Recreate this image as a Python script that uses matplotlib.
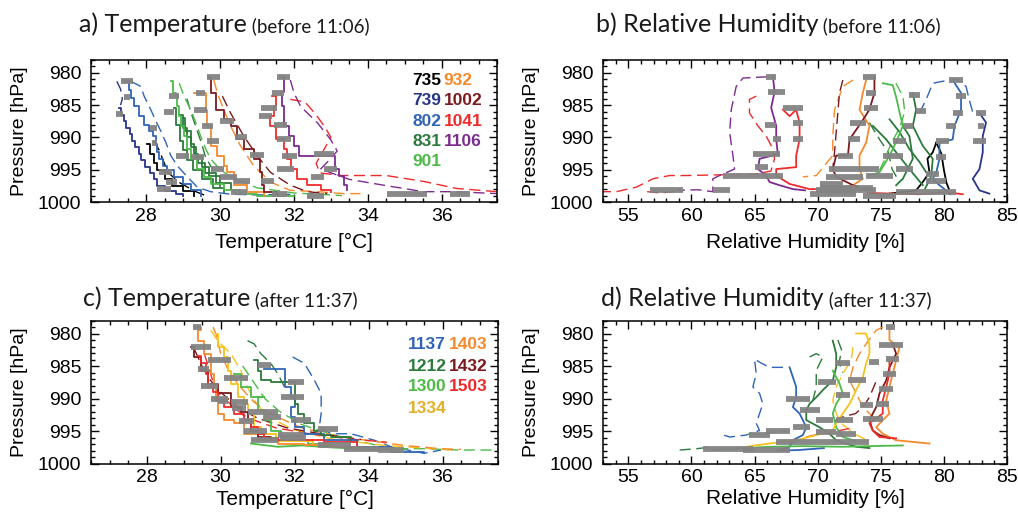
import matplotlib
matplotlib.use("Agg")
import matplotlib.pyplot as plt
from matplotlib.ticker import MultipleLocator

plt.rcParams['font.family'] = ['Liberation Sans', 'DejaVu Sans']

# ---------------- colours ----------------
COL = {
    '735': '#000000', '739': '#27358b', '802': '#2f64b6', '831': '#2b7a3c',
    '901': '#4dba48', '932': '#f5892b', '1002': '#7a1a1e', '1041': '#ee2b2b',
    '1106': '#7d2b8f',
    '1137': '#2f64b6', '1212': '#2b7a3c', '1300': '#4dba48', '1334': '#f7c21d',
    '1403': '#f5892b', '1432': '#7a1a1e', '1503': '#ee2b2b',
}
LABEL_COL = dict(COL)
LABEL_COL['1334'] = '#e3b02a'
GRAY = '#838383'

# ---------------- panel a: temperature before 11:06 (T [C], p [hPa]) ----------------
a_735_solid = [(28.03, 991.0), (28.1, 992.5), (28.2, 994.0), (28.3, 995.0), (28.5, 996.5), (28.7, 997.5), (29.0, 998.3), (29.3, 999.0)]
a_735_dash = [(28.2, 990.5), (28.35, 992.0), (28.45, 993.5), (28.6, 995.5), (28.9, 997.0), (29.3, 998.3), (29.6, 999.0)]
a_739_solid = [(27.25, 985.5), (27.3, 986.5), (27.4, 987.5), (27.45, 988.5), (27.55, 989.5), (27.6, 990.5), (27.7, 991.5), (27.8, 992.5), (27.85, 993.5), (27.95, 994.5), (28.1, 995.5), (28.2, 996.5), (28.3, 997.5), (28.5, 998.3), (28.8, 998.8), (29.0, 999.0)]
a_739_dash = [(27.2, 981.3), (27.3, 982.5), (27.35, 984.0), (27.3, 985.0)]
a_802_solid = [(27.4, 981.3), (27.54, 982.6), (27.58, 983.9), (27.67, 985.2), (27.8, 986.7), (27.94, 988.0), (28.08, 989.0), (28.17, 989.8), (28.26, 991.0), (28.3, 992.3), (28.35, 993.3), (28.44, 994.4), (28.57, 995.1), (28.75, 996.1), (28.98, 997.2), (29.2, 998.2), (29.47, 999.0)]
a_802_dash = [(27.58, 981.3), (27.85, 982.1), (27.94, 983.6), (28.12, 985.7), (28.26, 987.5), (28.39, 989.0), (28.53, 990.8), (28.66, 992.8), (28.84, 994.4), (29.11, 996.1), (29.38, 997.7), (29.74, 998.4), (30.3, 998.8), (31.0, 998.9), (31.9, 998.8)]
a_831_solid1 = [(28.75, 985.5), (28.8, 988.0), (28.9, 990.5), (29.0, 992.0), (29.1, 993.5), (29.25, 995.0), (29.5, 996.5), (29.8, 997.8), (30.1, 998.5)]
a_831_solid2 = [(29.0, 987.0), (29.05, 989.0), (29.2, 991.0), (29.3, 992.5), (29.4, 994.0), (29.6, 995.5), (29.9, 997.0), (30.3, 998.0)]
a_831_solid3 = [(28.9, 986.5), (29.0, 988.5), (29.1, 990.0), (29.2, 991.5), (29.35, 993.0), (29.5, 994.5), (29.7, 996.0), (30.0, 997.5)]
a_831_dash = [(29.1, 984.0), (29.2, 986.0), (29.35, 988.5), (29.5, 991.0), (29.6, 993.0), (29.8, 995.0)]
a_901_solid = [(28.66, 981.3), (28.71, 983.1), (28.8, 983.6), (28.84, 985.2), (28.89, 986.7), (28.93, 988.2), (29.02, 989.8), (29.11, 991.8), (29.2, 993.3), (29.38, 994.9), (29.56, 996.1), (29.74, 997.2), (30.1, 998.2), (30.55, 998.7), (31.0, 999.0), (32.0, 999.0)]
a_901_dash = [(28.89, 981.6), (29.02, 983.6), (29.2, 985.7), (29.34, 987.7), (29.47, 989.8), (29.61, 991.8), (29.74, 993.3), (30.0, 995.0), (30.4, 996.5), (31.0, 997.8), (32.0, 998.6), (33.3, 999.0)]
a_932_solid = [(29.29, 983.1), (29.56, 983.1), (29.61, 985.7), (29.65, 988.2), (29.74, 991.3), (29.92, 992.8), (30.1, 994.4), (30.19, 995.4), (30.37, 997.4), (30.73, 998.4), (31.18, 999.0)]
a_932_dash = [(29.83, 981.1), (29.92, 983.1), (30.1, 985.7), (30.28, 988.2), (30.55, 991.3), (30.91, 994.4), (31.36, 996.9), (31.9, 998.2), (32.63, 998.4), (33.35, 998.7), (33.8, 998.7)]
a_1002_solid = [(29.7, 980.6), (29.74, 983.1), (29.88, 985.7), (30.1, 987.2), (30.28, 988.2), (30.46, 990.3), (30.64, 991.8), (30.91, 993.3), (31.09, 995.4), (31.14, 997.4), (31.18, 998.4), (31.55, 998.7)]
a_1002_dash = [(30.06, 983.6), (30.28, 986.2), (30.64, 989.8), (31.0, 992.8), (31.36, 995.4), (31.9, 997.4), (32.36, 998.4), (32.9, 998.7)]
a_1041_solid = [(31.41, 983.6), (31.5, 985.2), (31.45, 986.7), (31.36, 988.2), (31.5, 990.3), (31.73, 991.8), (31.82, 993.3), (31.91, 994.9), (32.09, 996.4), (32.36, 997.4), (32.72, 998.2), (32.99, 998.4)]
a_1041_dash = [(31.9, 984.1), (32.3, 984.5), (32.6, 986.5), (32.85, 988.5), (33.0, 990.0), (32.8, 992.0), (32.6, 994.0), (32.7, 995.5), (33.3, 995.9), (34.5, 995.9), (35.5, 996.8), (36.4, 997.9), (37.5, 998.4)]
a_1106_solid = [(31.68, 980.6), (31.73, 982.9), (31.64, 983.4), (31.68, 985.2), (31.73, 988.2), (31.86, 989.8), (32.0, 991.3), (32.13, 992.8), (32.8, 992.8), (33.12, 992.8), (33.12, 994.9), (33.21, 995.9), (33.35, 997.4), (33.44, 998.2)]
a_1106_dash = [(31.9, 981.1), (32.0, 983.1), (32.18, 985.2), (32.63, 987.7), (32.99, 990.3), (33.17, 992.1), (32.99, 993.3), (32.72, 994.9), (33.5, 996.5), (34.43, 997.4), (35.5, 998.4), (36.4, 998.4), (37.5, 998.7)]

a_leg_p = [981.2, 983.8, 986.3, 988.5, 990.9, 995.4, 996.9, 998.0, 983.5, 986.0, 983.1, 985.7, 980.6, 988.2, 990.5, 987.5, 990.0, 992.7, 992.8, 993.1, 994.9, 996.1, 996.7, 998.4, 996.7, 998.7, 999.0, 985.4, 980.6, 983.1, 988.0, 990.3, 992.8, 992.6, 994.9, 996.1, 994.9, 998.7, 998.7, 986.7]
a_leg_t0 = [27.31, 27.4, 27.18, 28.1, 28.15, 28.35, 28.53, 28.3, 28.62, 28.48, 29.34, 29.29, 29.65, 29.5, 29.65, 30.0, 30.4, 30.82, 28.8, 29.2, 29.74, 30.0, 30.37, 30.28, 31.1, 31.41, 32.36, 31.1, 31.55, 31.41, 31.45, 31.55, 31.68, 32.54, 31.55, 32.45, 32.8, 34.52, 36.23, 31.05]
a_leg_t1 = [27.63, 27.56, 27.36, 28.3, 28.3, 28.7, 28.84, 28.66, 28.89, 28.75, 29.6, 29.65, 30.0, 29.8, 29.97, 30.37, 30.73, 31.18, 29.16, 29.56, 30.1, 30.46, 30.82, 30.73, 31.45, 31.82, 32.8, 31.55, 31.9, 31.73, 31.82, 31.91, 32.09, 33.08, 32.0, 32.8, 33.17, 35.6, 36.77, 31.41]

# ---------------- panel b: relative humidity before 11:06 (RH [%], p [hPa]) ----------------
b_735_solid = [(79.4, 990.8), (79.12, 992.3), (78.7, 993.3), (78.86, 995.4), (78.33, 996.9), (77.8, 998.2), (75.7, 998.7)]
b_735_solid2 = [(79.4, 990.8), (79.8, 992.5), (80.0, 995.0), (80.2, 997.0), (80.4, 998.0)]
b_739_solid = [(82.82, 986.2), (83.34, 987.7), (83.08, 989.8), (83.08, 992.3), (82.82, 994.9), (82.29, 996.4), (82.82, 998.2), (83.6, 998.7)]
b_802_solid = [(80.7, 981.1), (81.36, 983.1), (81.36, 985.7), (80.84, 988.2), (80.7, 990.3), (79.65, 990.8), (79.65, 993.3), (79.4, 995.4), (79.12, 996.4), (79.65, 997.4), (80.17, 998.2), (80.5, 998.8)]
b_802_dash = [(78.07, 986.2), (78.6, 984.1), (79.12, 981.6), (79.9, 981.3), (81.0, 981.0), (81.76, 982.1), (82.0, 984.1), (82.3, 986.2)]
b_831_solid1 = [(74.37, 988.2), (75.43, 990.3), (76.22, 992.3), (77.27, 994.9), (78.33, 997.4)]
b_831_solid2 = [(75.7, 987.2), (76.5, 989.2), (77.27, 991.8), (78.07, 993.8), (78.6, 995.4)]
b_831_solid3 = [(76.75, 988.2), (77.27, 989.8), (77.54, 993.3), (76.75, 996.4), (76.22, 997.4)]
b_831_solid4 = [(77.54, 983.1), (77.8, 985.7), (77.54, 988.2), (78.33, 991.3), (79.12, 993.3), (79.0, 996.0), (78.5, 998.0)]
b_831_dash = [(74.1, 987.7), (74.9, 990.3), (75.6, 992.3), (75.9, 994.9), (76.5, 997.0)]
b_901_solid = [(75.16, 981.6), (75.95, 981.9), (76.2, 983.6), (76.5, 986.2), (76.75, 988.2), (76.2, 990.8), (75.7, 992.8), (74.9, 995.4), (74.1, 995.9)]
b_901_dash = [(76.2, 981.6), (76.75, 983.6), (76.9, 986.0), (76.5, 988.5), (75.8, 991.0), (75.3, 993.5), (74.8, 995.5)]
b_932_solid = [(73.84, 981.1), (73.58, 983.1), (73.32, 985.7), (74.11, 988.2), (73.84, 990.8), (73.32, 992.8), (73.32, 994.9), (73.58, 996.4), (72.8, 997.4), (71.0, 998.0)]
b_932_dash = [(72.8, 981.1), (72.0, 982.1), (71.34, 985.7), (71.2, 989.8), (71.2, 992.8), (69.9, 995.9), (68.83, 996.1)]
b_1002_solid = [(74.5, 980.6), (74.5, 983.1), (74.1, 985.7), (73.45, 987.7), (72.53, 990.3), (72.4, 992.8), (71.47, 992.8), (71.2, 994.9), (71.47, 996.1), (72.8, 997.4), (74.1, 998.2)]
b_1002_dash = [(72.0, 981.1), (71.73, 983.1), (71.6, 986.2), (71.47, 989.2), (71.34, 992.3), (71.2, 994.9)]
b_1041_solid = [(67.25, 985.7), (67.78, 986.7), (68.3, 985.7), (68.57, 987.7), (68.57, 990.3), (68.3, 992.8), (68.3, 994.6), (66.72, 994.9), (66.72, 995.9), (67.78, 997.2), (69.36, 998.0), (71.47, 998.0), (72.5, 998.2)]
b_1041_solid2 = [(74.0, 998.6), (78.0, 998.8), (80.3, 998.5), (81.5, 998.8)]
b_1041_dash = [(65.14, 983.6), (64.6, 984.1), (64.6, 986.2), (65.27, 988.2), (65.93, 989.8), (66.46, 991.8), (66.59, 993.3), (66.3, 995.2), (65.0, 995.7), (62.0, 995.8), (59.6, 995.9), (58.28, 995.9), (56.96, 996.4), (55.64, 997.7), (54.06, 998.4), (53.0, 998.4)]
b_1041_dash2 = [(56.5, 998.4), (57.5, 998.6), (59.07, 998.3)]
b_1106_solid = [(66.46, 980.6), (66.59, 982.9), (66.32, 985.4), (66.72, 988.2), (66.72, 990.3), (66.85, 992.6), (65.4, 993.3), (65.27, 994.9), (65.93, 995.9), (66.19, 996.9), (66.98, 997.4), (68.04, 998.0), (69.0, 998.2)]
b_1106_dash = [(66.0, 980.6), (64.08, 980.8), (63.55, 982.1), (63.16, 985.7), (63.03, 989.2), (63.29, 992.8), (63.42, 994.9), (62.23, 995.9), (61.7, 996.4), (61.7, 998.4), (60.5, 998.1), (59.0, 998.2)]

b_leg_p = [980.6, 983.0, 985.5, 987.7, 990.3, 988.0, 990.3, 992.6, 994.6, 995.9, 998.2, 998.2,
           980.6, 983.1, 985.5, 987.7, 990.3, 992.8, 994.9, 996.1, 998.2, 997.2, 998.7,
           981.1, 983.6, 986.2, 988.2, 990.5, 986.2, 988.2, 990.5, 993.1, 995.6, 996.7, 998.4,
           983.4, 985.9, 988.2, 990.5, 992.8, 994.9, 995.9, 994.9, 997.9, 999.0, 998.4]
b_leg_r0 = [65.93, 66.06, 67.25, 68.04, 68.04, 65.8, 66.46, 64.87, 65.0, 62.5, 56.7, 61.7,
            73.58, 73.84, 73.7, 72.53, 72.4, 71.6, 70.94, 70.7, 69.9, 70.15, 69.36,
            80.44, 80.97, 82.55, 82.68, 82.29, 80.7, 80.17, 79.4, 79.4, 78.6, 78.6, 78.33,
            77.27, 77.8, 76.75, 75.95, 75.16, 76.2, 73.84, 73.3, 70.15, 73.58, 76.2]
b_leg_r1 = [66.72, 67.38, 68.83, 68.83, 68.83, 66.72, 67.1, 67.0, 66.06, 67.25, 59.33, 63.03,
            74.64, 74.64, 74.77, 73.84, 73.32, 72.8, 73.32, 73.6, 74.64, 72.0, 73.05,
            81.5, 81.76, 83.34, 83.2, 83.34, 81.5, 80.97, 80.44, 80.17, 79.65, 80.17, 80.97,
            78.07, 78.6, 77.54, 77.0, 76.75, 77.54, 75.95, 74.9, 74.37, 76.2, 78.33]

# ---------------- panel c: temperature after 11:37 ----------------
c_1137_solid = [(31.18, 985.4), (31.55, 985.4), (31.73, 985.7), (31.73, 988.2), (31.9, 989.8), (32.0, 991.3), (31.9, 992.8), (32.0, 994.4), (32.27, 995.4), (32.8, 996.4), (33.7, 997.4), (34.61, 998.2), (35.5, 998.4)]
c_1137_dash = [(31.95, 983.6), (32.27, 984.6), (32.54, 987.2), (32.72, 989.2), (32.72, 992.3), (32.67, 994.4), (32.99, 995.4), (33.53, 995.4), (34.16, 996.4), (34.61, 997.4), (35.5, 998.4), (35.96, 997.9)]
c_1212_solid = [(30.91, 984.1), (31.0, 985.7), (31.09, 987.2), (31.36, 987.5), (31.82, 987.5), (32.0, 988.7), (32.0, 990.8), (32.09, 992.3), (32.27, 993.8), (32.54, 994.9), (32.72, 995.6), (32.99, 995.9), (33.53, 996.4)]
c_1212_dash = [(30.73, 981.1), (30.91, 981.6), (31.09, 983.1), (31.36, 984.6), (31.55, 986.2), (31.73, 988.2)]
c_1300_solid = [(30.37, 986.2), (30.55, 988.2), (30.82, 989.8), (31.18, 989.8), (31.0, 991.8), (31.18, 993.3), (31.36, 994.9), (31.64, 995.9), (31.9, 996.4), (32.36, 996.9), (33.0, 997.2)]
c_1300_solid2 = [(30.82, 996.9), (31.55, 997.4), (32.2, 997.2), (33.0, 997.5), (34.0, 997.8), (35.0, 997.8)]
c_1300_dash = [(30.6, 985.0), (30.9, 987.5), (31.2, 990.0), (31.6, 992.0), (32.2, 994.0), (33.0, 995.5), (34.61, 997.7), (35.5, 997.7), (36.41, 997.9), (37.5, 997.9)]
c_1334_solid = [(29.88, 980.0), (29.92, 982.1), (30.1, 983.6), (30.19, 985.7), (30.28, 987.7), (30.46, 989.8), (30.64, 990.8), (30.73, 992.3), (30.91, 994.4), (31.09, 995.4), (31.5, 996.5), (32.5, 997.0)]
c_1334_dash = [(29.74, 979.5), (29.92, 981.1), (30.28, 983.1), (30.55, 985.7), (30.73, 988.2), (30.91, 990.3), (31.27, 992.8), (32.0, 994.8), (33.0, 996.2), (34.43, 997.2), (35.5, 997.6), (36.23, 997.9)]
c_1403_solid = [(29.38, 979.0), (29.47, 979.5), (29.38, 981.1), (29.56, 983.1), (29.74, 986.2), (29.83, 988.2), (29.88, 990.3), (29.92, 992.3), (30.1, 993.3), (30.37, 993.8), (30.64, 995.4), (31.0, 996.4), (31.55, 996.9), (32.27, 997.2), (32.99, 997.4), (33.7, 997.7)]
c_1403_dash = [(29.8, 979.0), (29.9, 980.5), (30.0, 983.0), (30.2, 985.5), (30.5, 988.0), (30.9, 990.5), (31.4, 992.5), (32.2, 994.5), (33.2, 995.8), (34.2, 996.6), (34.97, 997.2), (35.96, 997.7), (36.5, 997.8)]
c_1432_solid = [(29.2, 982.1), (29.29, 983.6), (29.47, 985.7), (29.65, 987.7), (29.92, 989.2), (30.28, 991.3), (30.55, 992.1), (30.73, 993.3), (30.82, 994.9), (31.0, 995.9), (31.36, 996.4)]
c_1432_dash = [(29.3, 982.5), (29.5, 985.0), (29.7, 987.0), (30.0, 989.0), (30.5, 991.5), (31.0, 993.0), (31.8, 994.5), (32.8, 995.5), (33.8, 996.3)]
c_1503_solid = [(29.38, 983.4), (29.47, 984.6), (29.61, 986.2), (29.65, 988.2), (29.79, 989.0), (29.92, 990.3), (30.1, 991.3), (30.37, 992.3), (30.64, 993.3), (30.82, 994.4), (31.0, 995.4), (31.18, 996.1), (31.55, 996.4), (32.09, 996.4), (32.8, 996.7), (33.7, 997.2)]
c_1503_dash = [(29.56, 983.1), (29.7, 985.5), (29.8, 987.5), (30.0, 989.5), (30.3, 991.0), (30.6, 992.5), (31.0, 993.5), (31.5, 994.5), (32.5, 995.5), (33.5, 996.2), (34.5, 996.7)]

c_leg_p = [979.0, 982.1, 984.1, 986.9, 984.9, 987.5, 989.8, 988.0, 990.3, 990.5, 992.1, 992.8, 993.3, 994.6, 994.9, 995.6, 996.4, 996.1, 997.2, 997.7, 997.9, 985.5, 990.0, 991.5, 993.5]
c_leg_t0 = [29.25, 29.2, 29.65, 30.1, 31.0, 31.82, 31.64, 29.47, 29.92, 30.28, 30.73, 31.18, 31.9, 32.63, 30.64, 31.55, 30.82, 31.6, 32.63, 33.35, 34.25, 29.4, 29.75, 30.3, 30.5]
c_leg_t1 = [29.47, 29.74, 30.28, 30.73, 31.36, 32.27, 32.27, 29.92, 30.19, 30.73, 31.55, 31.64, 32.45, 33.17, 31.27, 32.27, 31.55, 32.3, 33.53, 34.25, 34.97, 29.7, 30.2, 30.7, 30.9]

# ---------------- panel d: relative humidity after 11:37 ----------------
d_1137_solid = [(67.78, 985.2), (68.04, 986.7), (68.3, 988.2), (68.3, 989.8), (68.04, 991.3), (68.57, 992.3), (68.83, 993.3), (69.1, 994.4), (68.83, 995.6), (68.04, 996.4), (67.78, 997.4), (66.72, 998.0), (68.5, 997.9), (70.5, 997.6)]
d_1137_dash = [(67.25, 985.2), (66.19, 985.2), (65.4, 984.4), (65.0, 983.9), (65.14, 986.2), (64.87, 988.2), (65.4, 989.2), (65.66, 990.8), (65.4, 992.3), (65.14, 993.8), (65.4, 994.9), (64.34, 995.6), (63.03, 995.9), (62.23, 995.4)]
d_1212_solid = [(71.2, 981.1), (71.47, 983.1), (71.47, 985.2), (71.2, 987.2), (70.41, 988.7), (69.89, 989.8), (69.36, 990.8), (69.1, 991.8), (69.1, 993.3), (70.15, 994.4), (70.94, 995.4), (71.47, 996.4), (73.05, 997.4), (74.1, 997.6)]
d_1212_dash = [(69.36, 983.6), (69.89, 983.1), (70.41, 983.6), (69.89, 985.7), (69.89, 988.2), (69.62, 990.3)]
d_1212_dash2 = [(59.07, 997.9), (60.39, 997.7), (61.7, 997.4)]
d_1212_dash3 = [(71.6, 981.0), (71.9, 982.5), (71.7, 984.5), (72.0, 986.0)]
d_1300_solid = [(71.2, 985.7), (71.73, 987.7), (71.99, 989.2), (71.47, 990.8), (71.2, 992.3), (71.47, 994.4), (71.99, 995.9), (73.0, 996.5)]
d_1300_solid2 = [(61.7, 997.9), (64.0, 997.6), (66.19, 997.4), (68.83, 997.3), (72.0, 997.4), (74.1, 997.3), (76.75, 997.2)]
d_1300_dash = [(64.5, 995.5), (66.0, 995.3), (67.5, 995.0)]
d_1334_solid = [(73.05, 980.0), (73.84, 980.0), (74.1, 981.6), (74.1, 983.1), (73.84, 984.6), (73.58, 986.7), (73.05, 988.7), (72.53, 990.8), (71.99, 992.3), (71.47, 993.8), (71.2, 994.9), (69.89, 995.6), (68.3, 996.4), (66.19, 996.9), (64.34, 997.4)]
d_1334_dash = [(72.8, 982.1), (72.66, 984.1), (71.99, 986.2), (71.47, 988.2), (71.2, 990.3), (71.47, 992.3), (72.0, 994.0), (73.0, 995.5), (74.0, 996.5)]
d_1403_solid = [(75.69, 979.0), (75.69, 981.0), (76.48, 982.1), (76.22, 984.1), (75.95, 986.2), (75.69, 988.2), (75.43, 990.3), (75.69, 992.3), (75.16, 993.3), (74.64, 994.4), (75.16, 995.4), (76.22, 996.4), (78.86, 996.9)]
d_1403_dash = [(75.16, 979.0), (74.64, 979.5), (73.84, 981.6), (73.32, 983.1), (72.8, 985.2), (72.53, 987.2), (73.05, 989.2), (73.58, 991.3), (74.64, 993.3)]
d_1432_solid = [(75.95, 981.6), (76.22, 983.1), (75.69, 985.2), (75.43, 987.2), (74.9, 989.2), (74.64, 991.3), (74.1, 993.3), (74.37, 994.9), (74.9, 995.6), (75.69, 996.1)]
d_1432_dash = [(74.6, 987.5), (74.1, 989.8), (73.6, 991.3), (73.0, 992.3), (72.0, 992.8), (71.0, 993.8)]
d_1503_solid = [(75.69, 984.1), (75.69, 986.2), (75.43, 988.2), (75.16, 990.3), (75.16, 992.3), (74.1, 993.8), (74.37, 994.9), (74.9, 995.9), (76.22, 996.1)]
d_1503_dash = [(69.1, 995.9), (70.2, 995.4), (71.5, 995.0), (72.5, 994.6)]

d_leg_p = [979.0, 981.8, 983.9, 986.2, 988.5, 990.8, 993.1, 984.6, 987.2, 984.4, 989.5, 987.5, 990.0, 991.8, 991.0, 993.3, 993.3, 994.9, 995.6, 995.1, 995.4, 994.4, 996.7, 997.7, 997.9]
d_leg_r0 = [75.43, 74.9, 75.43, 75.16, 74.9, 74.64, 73.58, 71.47, 72.4, 74.1, 71.47, 70.02, 67.51, 68.57, 73.32, 71.47, 69.89, 65.93, 64.6, 69.89, 71.47, 68.04, 66.72, 60.92, 64.08]
d_leg_r1 = [76.1, 76.75, 76.48, 76.22, 75.95, 75.69, 75.16, 72.53, 73.84, 74.9, 72.53, 71.47, 69.36, 70.15, 74.37, 72.8, 71.2, 67.78, 66.19, 71.47, 73.05, 69.36, 74.1, 64.87, 67.78]

legend_a = [['735', '932'], ['739', '1002'], ['802', '1041'], ['831', '1106'], ['901']]
legend_c = [['1137', '1403'], ['1212', '1432'], ['1300', '1503'], ['1334']]

# ---------------- figure ----------------
W, H = 1018, 514
fig = plt.figure(figsize=(W / 100, H / 100), dpi=100)


def px_axes(left, top, right, bottom):
    return fig.add_axes([left / W, 1 - bottom / H, (right - left) / W, (bottom - top) / H])


ax_a = px_axes(91, 60, 497, 202)
ax_b = px_axes(603, 60, 1007, 202)
ax_c = px_axes(91, 320.5, 498, 463.7)
ax_d = px_axes(603, 320.5, 1007, 463.7)


def line(ax, pts, key, dashed=False, steps=False):
    xs = [p[0] for p in pts]
    ys = [p[1] for p in pts]
    if dashed:
        ax.plot(xs, ys, color=COL[key], lw=1.0, ls=(0, (8, 4)), zorder=2)
    else:
        ax.plot(xs, ys, color=COL[key], lw=1.3, zorder=2.2,
                drawstyle='steps-post' if steps else 'default')


def legs(ax, ps, x0s, x1s):
    for p, x0, x1 in zip(ps, x0s, x1s):
        ax.plot([x0, x1], [p, p], color=GRAY, lw=4.2, solid_capstyle='butt',
                alpha=0.95, zorder=3)


# panel a
line(ax_a, a_735_dash, '735', True); line(ax_a, a_735_solid, '735', steps=True)
line(ax_a, a_739_dash, '739', True); line(ax_a, a_739_solid, '739', steps=True)
line(ax_a, a_802_dash, '802', True); line(ax_a, a_802_solid, '802', steps=True)
line(ax_a, a_831_dash, '831', True)
line(ax_a, a_831_solid1, '831', steps=True); line(ax_a, a_831_solid2, '831', steps=True); line(ax_a, a_831_solid3, '831', steps=True)
line(ax_a, a_901_dash, '901', True); line(ax_a, a_901_solid, '901', steps=True)
line(ax_a, a_932_dash, '932', True); line(ax_a, a_932_solid, '932', steps=True)
line(ax_a, a_1002_dash, '1002', True); line(ax_a, a_1002_solid, '1002', steps=True)
line(ax_a, a_1041_dash, '1041', True); line(ax_a, a_1041_solid, '1041', steps=True)
line(ax_a, a_1106_dash, '1106', True); line(ax_a, a_1106_solid, '1106', steps=True)
legs(ax_a, a_leg_p, a_leg_t0, a_leg_t1)

# panel b
line(ax_b, b_735_solid, '735'); line(ax_b, b_735_solid2, '735')
line(ax_b, b_739_solid, '739')
line(ax_b, b_802_dash, '802', True); line(ax_b, b_802_solid, '802')
line(ax_b, b_831_dash, '831', True)
for s in (b_831_solid1, b_831_solid2, b_831_solid3, b_831_solid4):
    line(ax_b, s, '831')
line(ax_b, b_901_dash, '901', True); line(ax_b, b_901_solid, '901')
line(ax_b, b_932_dash, '932', True); line(ax_b, b_932_solid, '932')
line(ax_b, b_1002_dash, '1002', True); line(ax_b, b_1002_solid, '1002')
line(ax_b, b_1041_dash, '1041', True); line(ax_b, b_1041_dash2, '1041', True)
line(ax_b, b_1041_solid, '1041'); line(ax_b, b_1041_solid2, '1041')
line(ax_b, b_1106_dash, '1106', True); line(ax_b, b_1106_solid, '1106')
legs(ax_b, b_leg_p, b_leg_r0, b_leg_r1)

# panel c
line(ax_c, c_1137_dash, '1137', True); line(ax_c, c_1137_solid, '1137', steps=True)
line(ax_c, c_1212_dash, '1212', True); line(ax_c, c_1212_solid, '1212', steps=True)
line(ax_c, c_1300_dash, '1300', True); line(ax_c, c_1300_solid, '1300', steps=True); line(ax_c, c_1300_solid2, '1300')
line(ax_c, c_1334_dash, '1334', True); line(ax_c, c_1334_solid, '1334', steps=True)
line(ax_c, c_1403_dash, '1403', True); line(ax_c, c_1403_solid, '1403', steps=True)
line(ax_c, c_1432_dash, '1432', True); line(ax_c, c_1432_solid, '1432', steps=True)
line(ax_c, c_1503_dash, '1503', True); line(ax_c, c_1503_solid, '1503', steps=True)
legs(ax_c, c_leg_p, c_leg_t0, c_leg_t1)

# panel d
line(ax_d, d_1137_dash, '1137', True); line(ax_d, d_1137_solid, '1137')
line(ax_d, d_1212_dash, '1212', True); line(ax_d, d_1212_dash2, '1212', True); line(ax_d, d_1212_dash3, '1212', True)
line(ax_d, d_1212_solid, '1212')
line(ax_d, d_1300_dash, '1300', True); line(ax_d, d_1300_solid, '1300'); line(ax_d, d_1300_solid2, '1300')
line(ax_d, d_1334_dash, '1334', True); line(ax_d, d_1334_solid, '1334')
line(ax_d, d_1403_dash, '1403', True); line(ax_d, d_1403_solid, '1403')
line(ax_d, d_1432_dash, '1432', True); line(ax_d, d_1432_solid, '1432')
line(ax_d, d_1503_dash, '1503', True); line(ax_d, d_1503_solid, '1503')
legs(ax_d, d_leg_p, d_leg_r0, d_leg_r1)

# ---------------- axes styling ----------------
for ax, kind in ((ax_a, 'T'), (ax_b, 'RH'), (ax_c, 'T'), (ax_d, 'RH')):
    ax.set_ylim(1000, 978)
    ax.yaxis.set_major_locator(MultipleLocator(5))
    ax.yaxis.set_minor_locator(MultipleLocator(1))
    if kind == 'T':
        ax.set_xlim(26.5, 37.5)
        ax.xaxis.set_major_locator(MultipleLocator(2))
        ax.xaxis.set_minor_locator(MultipleLocator(0.5))
        ax.set_xlabel('Temperature [°C]', fontsize=15)
    else:
        ax.set_xlim(53, 85)
        ax.xaxis.set_major_locator(MultipleLocator(5))
        ax.xaxis.set_minor_locator(MultipleLocator(1))
        ax.set_xlabel('Relative Humidity [%]', fontsize=15)
    ax.set_ylabel('Pressure [hPa]', fontsize=14)
    ax.tick_params(which='both', direction='in', top=True, right=True, width=1.0,
                   labelsize=14)
    ax.tick_params(which='major', length=6)
    ax.tick_params(which='minor', length=3)
    ax.tick_params(axis='x', pad=4)
    ax.tick_params(axis='y', pad=7)
    for sp in ax.spines.values():
        sp.set_linewidth(1.1)
    ax.yaxis.set_label_coords(-0.155, 0.5)

ax_a.xaxis.set_label_coords(0.5, -0.215)
ax_b.xaxis.set_label_coords(0.5, -0.215)
ax_c.xaxis.set_label_coords(0.5, -0.18)
ax_d.xaxis.set_label_coords(0.5, -0.18)

# flight legends
for ax, rows, x_cols, y_rows in ((ax_a, legend_a, (0.791, 0.868), (0.854, 0.713, 0.565, 0.424, 0.282)),
                                 (ax_c, legend_c, (0.778, 0.880), (0.830, 0.680, 0.540, 0.388))):
    for row, yy in zip(rows, y_rows):
        for key, xx in zip(row, x_cols):
            ax.text(xx, yy, key, transform=ax.transAxes, color=LABEL_COL[key],
                    fontsize=12.5, fontweight='bold', ha='left', va='center', zorder=5)

# panel titles
title_font = ['Lato', 'DejaVu Sans']
titles = [(79, 32.3, 'a) Temperature', ' (before 11:06)'),
          (596, 32.3, 'b) Relative Humidity', ' (before 11:06)'),
          (83, 306.5, 'c) Temperature', ' (after 11:37)'),
          (601, 306.5, 'd) Relative Humidity', ' (after 11:37)')]
fig.canvas.draw()
renderer = fig.canvas.get_renderer()
for x, y, main, sub in titles:
    t = fig.text(x / W, 1 - y / H, main, fontsize=18, family=title_font, fontweight='normal',
                 color='#1a1a1a', va='baseline', ha='left')
    bb = t.get_window_extent(renderer=renderer)
    fig.text(bb.x1 / W, 1 - y / H, sub, fontsize=13.5, family=title_font, fontweight='normal',
             color='#1a1a1a', va='baseline', ha='left')

fig.savefig('out.png', dpi=100)
